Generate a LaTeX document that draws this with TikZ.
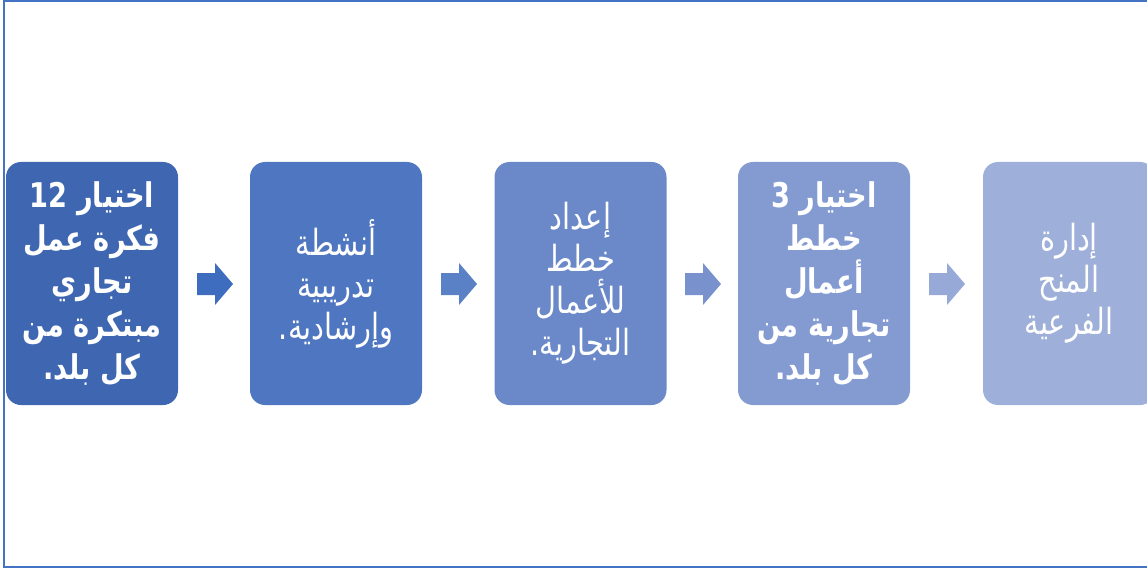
\documentclass[tikz,border=0pt]{standalone}
\usepackage{fontspec}
\TeXXeTstate=1
\newfontfamily\arabicfont[Script=Arabic,FakeStretch=0.8]{DejaVu Sans}
\definecolor{frame}{RGB}{68,114,196}
\definecolor{bxa}{RGB}{63,103,177}
\definecolor{bxb}{RGB}{79,118,192}
\definecolor{bxc}{RGB}{107,137,200}
\definecolor{bxd}{RGB}{132,155,210}
\definecolor{bxe}{RGB}{158,175,217}
\definecolor{ara}{RGB}{62,108,190}
\definecolor{arb}{RGB}{90,128,198}
\definecolor{arc}{RGB}{121,146,206}
\definecolor{ard}{RGB}{151,169,214}
\tikzset{
  stepbox/.style={rectangle, rounded corners=15pt, minimum width=172pt, minimum height=243pt,
    inner sep=0pt, text=white, align=center,
    font=\arabicfont\fontsize{36}{42}\selectfont},
  boldtext/.style={font=\arabicfont\bfseries\fontsize{34}{43}\selectfont},
}
\newcommand{\blockarrow}[3]{%
  \fill[#2] (#1-18,273) -- (#1,273) -- (#1,263) -- (#1+18,284) -- (#1,305) -- (#1,295) -- (#1-18,295) -- cycle;
  \coordinate (#3) at (#1,284);}
\begin{document}
\begin{tikzpicture}[x=1pt,y=-1pt]
\useasboundingbox (0,0) rectangle (1147,569);
\clip (0,0) rectangle (1147,569);
\draw[frame, line width=2.2pt] (4,1) rectangle (1160,567);
\node[stepbox, fill=bxa, boldtext] (b1) at (92,283.5)
  {\beginR اختيار \beginL12\endL\endR\\ \beginR فكرة عمل\endR\\ \beginR تجاري\endR\\ \beginR مبتكرة من\endR\\ \beginR كل بلد.\endR};
\node[stepbox, fill=bxb] (b2) at (336,283.5)
  {\beginR أنشطة\endR\\ \beginR تدريبية\endR\\ \beginR وإرشادية.\endR};
\node[stepbox, fill=bxc] (b3) at (580.5,283.5)
  {\beginR إعداد\endR\\ \beginR خطط\endR\\ \beginR للأعمال\endR\\ \beginR التجارية.\endR};
\node[stepbox, fill=bxd, boldtext] (b4) at (824,283.5)
  {\beginR اختيار \beginL3\endL\endR\\ \beginR خطط\endR\\ \beginR أعمال\endR\\ \beginR تجارية من\endR\\ \beginR كل بلد.\endR};
\node[stepbox, fill=bxe] (b5) at (1069,283.5)
  {\beginR إدارة\endR\\ \beginR المنح\endR\\ \beginR الفرعية\endR};
\blockarrow{215}{ara}{a1}
\blockarrow{459}{arb}{a2}
\blockarrow{703}{arc}{a3}
\blockarrow{947}{ard}{a4}
\end{tikzpicture}
\end{document}
